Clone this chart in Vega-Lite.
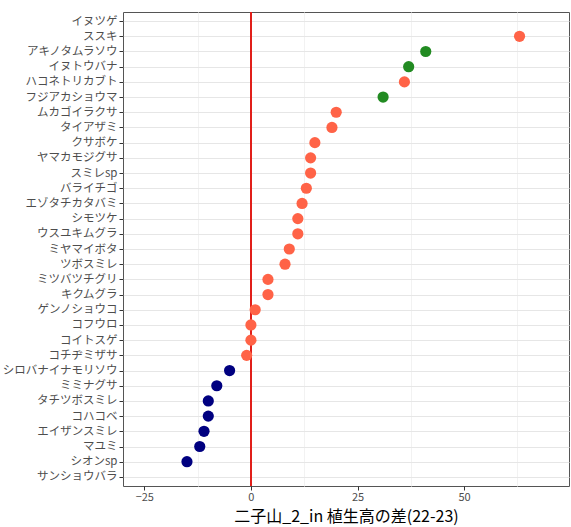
{
  "$schema": "https://vega.github.io/schema/vega-lite/v6.json",
  "width": 446,
  "height": 474,
  "autosize": {"type": "none"},
  "padding": {"left": 123, "top": 12, "right": 2, "bottom": 41},
  "background": "white",
  "config": {
    "font": "Noto Sans CJK JP",
    "view": {"stroke": "#555555", "strokeWidth": 1}
  },
  "data": {
    "values": [
      {"species": "イヌツゲ", "diff": null, "grp": "pos"},
      {"species": "ススキ", "diff": 63, "grp": "pos"},
      {"species": "アキノタムラソウ", "diff": 41, "grp": "green"},
      {"species": "イヌトウバナ", "diff": 37, "grp": "green"},
      {"species": "ハコネトリカブト", "diff": 36, "grp": "pos"},
      {"species": "フジアカショウマ", "diff": 31, "grp": "green"},
      {"species": "ムカゴイラクサ", "diff": 20, "grp": "pos"},
      {"species": "タイアザミ", "diff": 19, "grp": "pos"},
      {"species": "クサボケ", "diff": 15, "grp": "pos"},
      {"species": "ヤマカモジグサ", "diff": 14, "grp": "pos"},
      {"species": "スミレsp", "diff": 14, "grp": "pos"},
      {"species": "バライチゴ", "diff": 13, "grp": "pos"},
      {"species": "エゾタチカタバミ", "diff": 12, "grp": "pos"},
      {"species": "シモツケ", "diff": 11, "grp": "pos"},
      {"species": "ウスユキムグラ", "diff": 11, "grp": "pos"},
      {"species": "ミヤマイボタ", "diff": 9, "grp": "pos"},
      {"species": "ツボスミレ", "diff": 8, "grp": "pos"},
      {"species": "ミツバツチグリ", "diff": 4, "grp": "pos"},
      {"species": "キクムグラ", "diff": 4, "grp": "pos"},
      {"species": "ゲンノショウコ", "diff": 1, "grp": "pos"},
      {"species": "コフウロ", "diff": 0, "grp": "pos"},
      {"species": "コイトスゲ", "diff": 0, "grp": "pos"},
      {"species": "コチヂミザサ", "diff": -1, "grp": "pos"},
      {"species": "シロバナイナモリソウ", "diff": -5, "grp": "neg"},
      {"species": "ミミナグサ", "diff": -8, "grp": "neg"},
      {"species": "タチツボスミレ", "diff": -10, "grp": "neg"},
      {"species": "コハコベ", "diff": -10, "grp": "neg"},
      {"species": "エイザンスミレ", "diff": -11, "grp": "neg"},
      {"species": "マユミ", "diff": -12, "grp": "neg"},
      {"species": "シオンsp", "diff": -15, "grp": "neg"},
      {"species": "サンショウバラ", "diff": null, "grp": "neg"}
    ]
  },
  "resolve": {"axis": {"x": "independent"}},
  "layer": [
    {
      "mark": {"type": "rule", "color": "#E0201A", "strokeWidth": 1.6},
      "encoding": {
        "x": {
          "datum": 0,
          "type": "quantitative",
          "scale": {"domain": [-30, 74.6], "nice": false, "zero": false},
          "axis": {
            "orient": "top",
            "values": [-12.5, 12.5, 37.5, 62.5],
            "labels": false,
            "ticks": false,
            "domain": false,
            "title": null,
            "grid": true,
            "gridColor": "#F2F2F2",
            "gridWidth": 1
          }
        }
      }
    },
    {
      "mark": {"type": "circle", "opacity": 1, "size": 125},
      "encoding": {
        "x": {
          "field": "diff",
          "type": "quantitative",
          "scale": {"domain": [-30, 74.6], "nice": false, "zero": false},
          "title": "二子山_2_in 植生高の差(22-23)",
          "axis": {
            "orient": "bottom",
            "values": [-25, 0, 25, 50],
            "labelFontSize": 11,
            "labelColor": "#4D4D4D",
            "labelPadding": 1,
            "tickSize": 4,
            "tickColor": "#333333",
            "gridColor": "#E6E6E6",
            "gridWidth": 1,
            "domain": false,
            "titleFontSize": 16,
            "titleFontWeight": "normal",
            "titleColor": "#000000",
            "titlePadding": 6
          }
        },
        "y": {
          "field": "species",
          "type": "nominal",
          "sort": null,
          "scale": {
            "type": "point",
            "padding": 0.6,
            "domain": ["イヌツゲ", "ススキ", "アキノタムラソウ", "イヌトウバナ", "ハコネトリカブト", "フジアカショウマ", "ムカゴイラクサ", "タイアザミ", "クサボケ", "ヤマカモジグサ", "スミレsp", "バライチゴ", "エゾタチカタバミ", "シモツケ", "ウスユキムグラ", "ミヤマイボタ", "ツボスミレ", "ミツバツチグリ", "キクムグラ", "ゲンノショウコ", "コフウロ", "コイトスゲ", "コチヂミザサ", "シロバナイナモリソウ", "ミミナグサ", "タチツボスミレ", "コハコベ", "エイザンスミレ", "マユミ", "シオンsp", "サンショウバラ"]
          },
          "title": null,
          "axis": {
            "grid": true,
            "gridColor": "#E6E6E6",
            "gridWidth": 1,
            "labelFontSize": 11.5,
            "labelColor": "#4D4D4D",
            "labelPadding": 2,
            "tickSize": 4,
            "tickColor": "#333333",
            "domain": false
          }
        },
        "color": {
          "field": "grp",
          "type": "nominal",
          "scale": {"domain": ["pos", "green", "neg"], "range": ["#FF6347", "#228B22", "#000080"]},
          "legend": null
        }
      }
    }
  ]
}
